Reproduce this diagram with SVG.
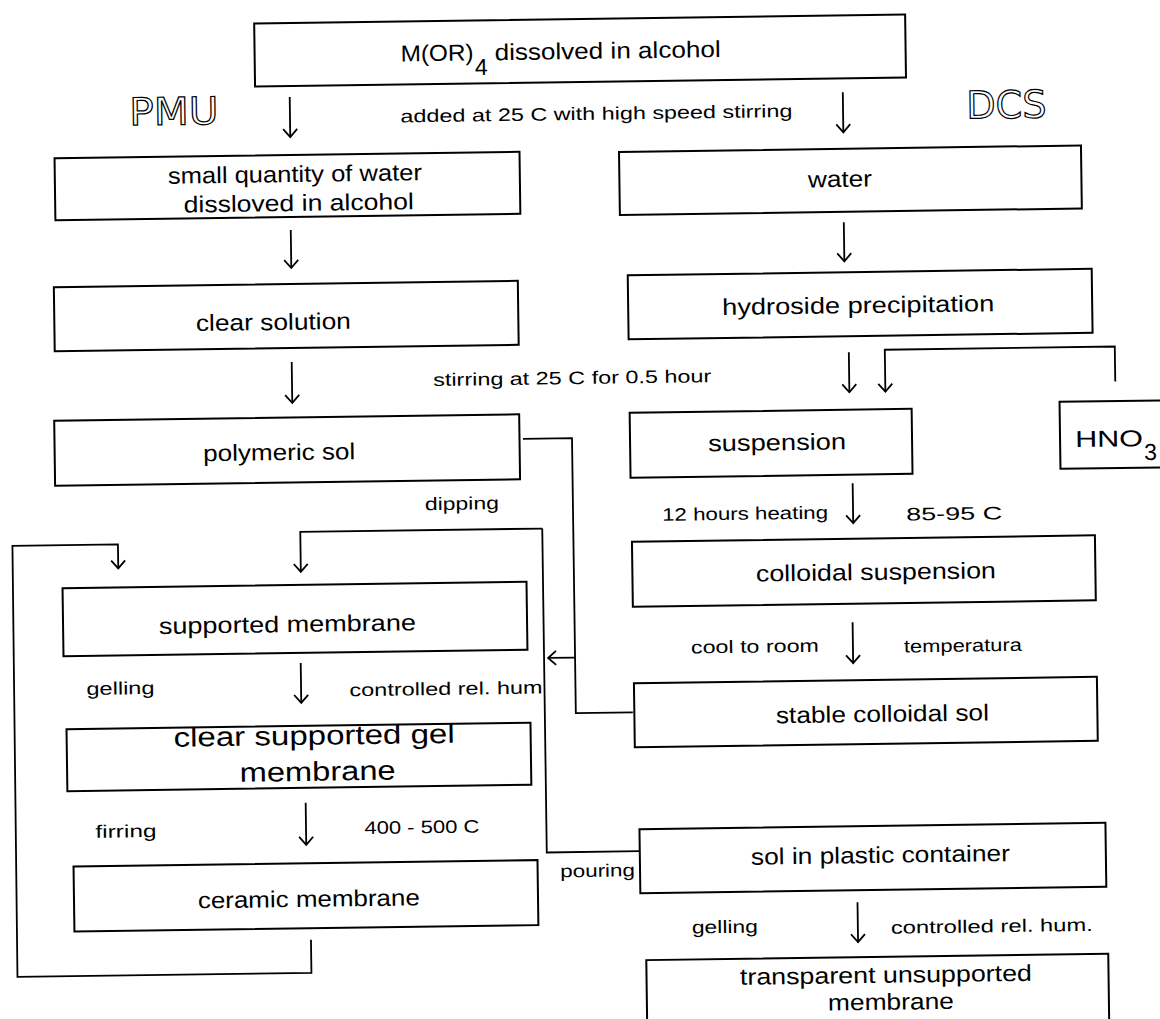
<svg xmlns="http://www.w3.org/2000/svg" width="1160" height="1019" viewBox="0 0 1160 1019">
<style>
.box{fill:#fff;stroke:#000;stroke-width:2}
.t{font-family:"Liberation Sans",Arial,sans-serif;font-size:23px;fill:#000}
.lbl{font-size:18px}
.big{font-size:27px}
.out{font-family:"DejaVu Sans","Liberation Sans",sans-serif;font-size:38px;fill:none;stroke:#000;stroke-width:1.2}
.conn{fill:none;stroke:#000;stroke-width:1.8}
</style>
<defs>
<marker id="ah" markerUnits="userSpaceOnUse" markerWidth="20" markerHeight="20" viewBox="-10 -10 20 20" refX="0" refY="0" orient="auto">
<path d="M-8,-7 L0,0 L-8,7" fill="none" stroke="#000" stroke-width="1.8"/>
</marker>
</defs>
<rect width="1160" height="1019" fill="#fff"/>
<g transform="rotate(-0.8 580 510)">
<g id="connectors">
<path class="conn" d="M295.5,93 V133" marker-end="url(#ah)"/>
<path class="conn" d="M848.6,96 V136" marker-end="url(#ah)"/>
<path class="conn" d="M294.7,226 V264" marker-end="url(#ah)"/>
<path class="conn" d="M847.8,226 V265" marker-end="url(#ah)"/>
<path class="conn" d="M293.8,358 V399" marker-end="url(#ah)"/>
<path class="conn" d="M851,356 V396" marker-end="url(#ah)"/>
<path class="conn" d="M1117,389 V354 H887 V396" marker-end="url(#ah)"/>
<path class="conn" d="M853,487 V527" marker-end="url(#ah)"/>
<path class="conn" d="M851,626 V667" marker-end="url(#ah)"/>
<path class="conn" d="M524,438 H573 V713 H630"/>
<path class="conn" d="M573,657.5 H546" marker-end="url(#ah)"/>
<path class="conn" d="M542,528 H300 V568" marker-end="url(#ah)"/>
<path class="conn" d="M542,528 V852 H635"/>
<path class="conn" d="M298.6,659 V699" marker-end="url(#ah)"/>
<path class="conn" d="M301.6,799 V841" marker-end="url(#ah)"/>
<path class="conn" d="M305,936 V969 H11 L12,538 H117.5 V562" marker-end="url(#ah)"/>
<path class="conn" d="M852,906 V946" marker-end="url(#ah)"/>
</g>
<g id="labels">
<text class="out" x="135" y="119" textLength="89" lengthAdjust="spacingAndGlyphs">PMU</text>
<text class="out" x="972" y="124" textLength="80" lengthAdjust="spacingAndGlyphs">DCS</text>
<text class="t lbl" x="406" y="120" textLength="392" lengthAdjust="spacingAndGlyphs">added at 25 C with high speed stirring</text>
<text class="t lbl" x="435" y="384" textLength="278" lengthAdjust="spacingAndGlyphs">stirring at 25 C for 0.5 hour</text>
<text class="t lbl" x="425" y="508" textLength="74" lengthAdjust="spacingAndGlyphs">dipping</text>
<text class="t lbl" x="662" y="522" textLength="166" lengthAdjust="spacingAndGlyphs">12 hours heating</text>
<text class="t lbl" x="906" y="525" textLength="96" lengthAdjust="spacingAndGlyphs">85-95 C</text>
<text class="t lbl" x="689" y="655" textLength="128" lengthAdjust="spacingAndGlyphs">cool to room</text>
<text class="t lbl" x="902" y="657" textLength="118" lengthAdjust="spacingAndGlyphs">temperatura</text>
<text class="t lbl" x="84" y="688" textLength="68" lengthAdjust="spacingAndGlyphs">gelling</text>
<text class="t lbl" x="347" y="693" textLength="193" lengthAdjust="spacingAndGlyphs">controlled rel. hum</text>
<text class="t lbl" x="91" y="831" textLength="61" lengthAdjust="spacingAndGlyphs">firring</text>
<text class="t lbl" x="360" y="831" textLength="115" lengthAdjust="spacingAndGlyphs">400 - 500 C</text>
<text class="t lbl" x="555" y="877" textLength="75" lengthAdjust="spacingAndGlyphs">pouring</text>
<text class="t lbl" x="686" y="935" textLength="66" lengthAdjust="spacingAndGlyphs">gelling</text>
<text class="t lbl" x="885" y="938" textLength="202" lengthAdjust="spacingAndGlyphs">controlled rel. hum.</text>
</g>
<g id="n-start">
<rect class="box" x="261" y="19" width="651" height="63"/>
<text class="t" x="407" y="59" font-size="22" textLength="73" lengthAdjust="spacingAndGlyphs">M(OR)</text>
<text class="t" x="481" y="73.6" font-size="16">4</text>
<text class="t" x="501" y="59" font-size="22" textLength="226" lengthAdjust="spacingAndGlyphs">dissolved in alcohol</text>
</g>
<g id="n-small-water">
<rect class="box" x="59.5" y="151" width="465" height="62"/>
<text class="t" x="172.6" y="178" textLength="254" lengthAdjust="spacingAndGlyphs">small quantity of water</text>
<text class="t" x="188" y="207" textLength="230" lengthAdjust="spacingAndGlyphs">dissloved in alcohol</text>
</g>
<g id="n-water">
<rect class="box" x="624" y="152.5" width="462" height="63"/>
<text class="t" x="812.5" y="190.6" textLength="64" lengthAdjust="spacingAndGlyphs">water</text>
</g>
<g id="n-clear-solution">
<rect class="box" x="57" y="280" width="464" height="64"/>
<text class="t" x="198.5" y="325.7" textLength="155" lengthAdjust="spacingAndGlyphs">clear solution</text>
</g>
<g id="n-hydroside">
<rect class="box" x="631" y="276" width="464" height="64"/>
<text class="t" x="725" y="317" textLength="272" lengthAdjust="spacingAndGlyphs">hydroside precipitation</text>
</g>
<g id="n-polymeric">
<rect class="box" x="55.5" y="413.5" width="465" height="65"/>
<text class="t" x="204" y="456" textLength="152" lengthAdjust="spacingAndGlyphs">polymeric sol</text>
</g>
<g id="n-suspension">
<rect class="box" x="631" y="413.5" width="282" height="65"/>
<text class="t" x="709" y="453" textLength="138" lengthAdjust="spacingAndGlyphs">suspension</text>
</g>
<g id="n-hno3">
<rect class="box" x="1061" y="408.5" width="140" height="67"/>
<text class="t" x="1076" y="454" font-size="20" textLength="68" lengthAdjust="spacingAndGlyphs">HNO</text>
<text class="t" x="1145" y="468" font-size="16">3</text>
</g>
<g id="n-colloidal">
<rect class="box" x="631.5" y="542.5" width="463" height="65"/>
<text class="t" x="755" y="584" textLength="240" lengthAdjust="spacingAndGlyphs">colloidal suspension</text>
</g>
<g id="n-supported">
<rect class="box" x="61.5" y="581" width="464" height="68"/>
<text class="t" x="157.3" y="628" textLength="257" lengthAdjust="spacingAndGlyphs">supported membrane</text>
</g>
<g id="n-stable">
<rect class="box" x="631.5" y="684" width="463" height="64"/>
<text class="t" x="773" y="726" textLength="213" lengthAdjust="spacingAndGlyphs">stable colloidal sol</text>
</g>
<g id="n-gel">
<rect class="box" x="63.5" y="722" width="464" height="62"/>
<text class="t big" x="170.5" y="741" textLength="281" lengthAdjust="spacingAndGlyphs">clear supported gel</text>
<text class="t big" x="236" y="777" textLength="156" lengthAdjust="spacingAndGlyphs">membrane</text>
</g>
<g id="n-ceramic">
<rect class="box" x="68.6" y="859.5" width="464" height="65"/>
<text class="t" x="192.4" y="903" textLength="222" lengthAdjust="spacingAndGlyphs">ceramic membrane</text>
</g>
<g id="n-plastic">
<rect class="box" x="635" y="830" width="466" height="64"/>
<text class="t" x="746" y="867" textLength="259" lengthAdjust="spacingAndGlyphs">sol in plastic container</text>
</g>
<g id="n-transparent">
<rect class="box" x="640" y="961" width="462" height="75"/>
<text class="t" x="733.4" y="987" textLength="292" lengthAdjust="spacingAndGlyphs">transparent unsupported</text>
<text class="t" x="821" y="1014" textLength="126" lengthAdjust="spacingAndGlyphs">membrane</text>
</g>
</g>
</svg>
